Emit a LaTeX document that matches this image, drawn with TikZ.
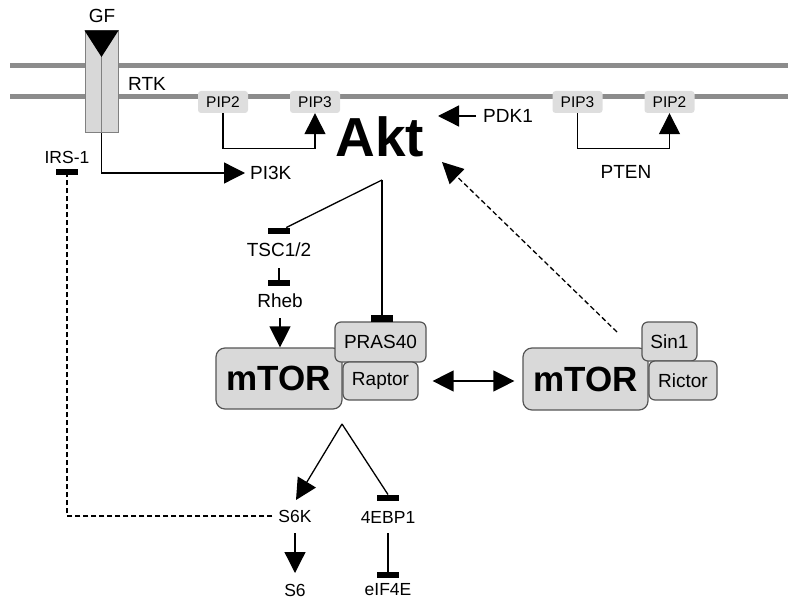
\documentclass[tikz,border=0pt]{standalone}
\usepackage{fontspec}
\setmainfont{Liberation Sans}
\usetikzlibrary{arrows.meta}
\definecolor{memb}{RGB}{140,140,140}
\definecolor{rtkfill}{RGB}{216,216,216}
\definecolor{rtkdraw}{RGB}{128,128,128}
\definecolor{pipfill}{RGB}{222,222,222}
\definecolor{boxfill}{RGB}{217,217,217}
\definecolor{boxdraw}{RGB}{85,85,85}
\begin{document}
\begin{tikzpicture}[x=1pt,y=-1pt,
  lbl/.style={font=\fontsize{19}{19}\selectfont, inner sep=0pt},
  sm/.style={font=\fontsize{17.5}{17.5}\selectfont, inner sep=0pt},
  pip/.style={fill=pipfill, rounded corners=3pt, minimum width=50pt, minimum height=22pt, inner sep=0pt, font=\fontsize{15.5}{15.5}\selectfont},
  ibar/.style={fill=black, minimum width=22pt, minimum height=6.5pt, inner sep=0pt},
  conn/.style={line width=1.3pt},
  arr/.style={conn, -{Triangle[length=21pt,width=21pt]}},
  dblarr/.style={conn, {Triangle[length=21pt,width=21pt]}-{Triangle[length=21pt,width=21pt]}},
  dashline/.style={conn, dash pattern=on 5pt off 3pt},
  dasharr/.style={dashline, -{Triangle[length=21pt,width=21pt]}},
  cbox/.style={draw=boxdraw, fill=boxfill, rounded corners=6pt, line width=1.2pt, inner sep=0pt},
  bigbox/.style={cbox, rounded corners=9pt, font=\fontsize{35}{35}\selectfont\bfseries},
  membline/.style={draw=memb, line width=5pt}
]
\useasboundingbox (0,0) rectangle (798,599);

% membrane
\draw[membline] (10,66) -- (788,66);
\draw[membline] (10,97) -- (788,97);

% RTK
\node[draw=rtkdraw, fill=rtkfill, minimum width=33pt, minimum height=102pt, inner sep=0pt, line width=1pt] (rtk) at (101.5,82) {};
\draw[rtkdraw, line width=1pt] (rtk.north) -- (rtk.south);
\fill[black] (rtk.north west) -- (rtk.north east) -- (101.5,57) -- cycle;
\node[lbl] (gf) at (102,16) {GF};
\node[lbl] (rtklbl) at (147,84) {RTK};

% PI3K
\node[lbl, anchor=west] (pi3k) at (250,173) {PI3K};
\draw[arr] (rtk.south) |- ([xshift=-5pt]pi3k.west);

% IRS-1
\node[sm] (irs) at (67,157) {IRS-1};
\node[ibar] (irsbar) at (67,172) {};

% PIP boxes
\node[pip] (pip2a) at (223,102) {PIP2};
\node[pip] (pip3a) at (315,102) {PIP3};
\node[pip] (pip3b) at (577.5,102) {PIP3};
\node[pip] (pip2b) at (669.5,102) {PIP2};
\draw[arr] (pip2a.south) -- ++(0,35) -| (pip3a.south);
\draw[arr] (pip3b.south) -- ++(0,35) -| (pip2b.south);
\node[lbl] (pten) at (626,172) {PTEN};

% Akt
\node[font=\fontsize{55}{55}\selectfont\bfseries, inner sep=0pt] (akt) at (380,137) {Akt};
\node[lbl, anchor=west] (pdk1) at (483,116) {PDK1};
\draw[arr] ([xshift=-7pt]pdk1.west) -- ([xshift=-45pt]pdk1.west);
\coordinate (aktfoot) at (382,180);
\coordinate (aktin) at (442,162);

% TSC / Rheb
\node[ibar] (tscbar) at (279,231) {};
\node[lbl] (tsc) at (279,250) {TSC1/2};
\node[ibar] (rhebbar) at (279,283) {};
\node[lbl] (rheb) at (280,301) {Rheb};
\draw[conn] (aktfoot) -- ([xshift=-4pt]tscbar.north east);
\draw[conn] (rhebbar.north) -- ++(0,-12);

% mTORC1
\node[bigbox, minimum width=126pt, minimum height=61pt] (mtora) at (279,378.5) {mTOR};
\node[cbox, lbl, minimum width=91pt, minimum height=40pt] (pras) at (380.5,342) {PRAS40};
\node[cbox, lbl, minimum width=75pt, minimum height=38pt] (raptor) at (380.5,381) {Raptor};
\node[ibar] (prasbar) at (382,318.5) {};
\draw[conn] (aktfoot) -- (prasbar.north);
\draw[arr] (rheb) ++(0,17) -- (rheb |- mtora.north);

% mTORC2
\node[bigbox, minimum width=125pt, minimum height=62pt] (mtorb) at (585.5,379) {mTOR};
\node[cbox, lbl, minimum width=55pt, minimum height=39pt] (sin1) at (669.5,341.5) {Sin1};
\node[cbox, lbl, minimum width=68pt, minimum height=39pt] (rictor) at (683,380.5) {Rictor};
\coordinate (dstart) at (617,332);
\draw[dasharr] (dstart) -- (aktin);
\draw[dblarr] ([xshift=14pt]raptor.east) -- ([xshift=-8pt]mtorb.west |- raptor.east);

% downstream
\coordinate (mapex) at (342,424);
\node[sm] (s6k) at (295,516) {S6K};
\node[sm] (ebp) at (388,517) {4EBP1};
\node[ibar] (ebpbar) at (388,498) {};
\node[sm] (s6) at (295,590) {S6};
\node[sm] (eif) at (388,590) {eIF4E};
\node[ibar] (eifbar) at (388,575) {};
\coordinate (s6ktip) at (296,500);
\draw[arr] (mapex) -- (s6ktip);
\draw[conn] (mapex) -- (ebpbar.north);
\draw[arr] (s6k) ++(0,17) -- (s6k |- 0,573);
\draw[conn] (ebp) ++(0,16) -- (eifbar.north);
\draw[dashline] ([xshift=-6pt]s6k.west) -| (irsbar.south);
\end{tikzpicture}
\end{document}
